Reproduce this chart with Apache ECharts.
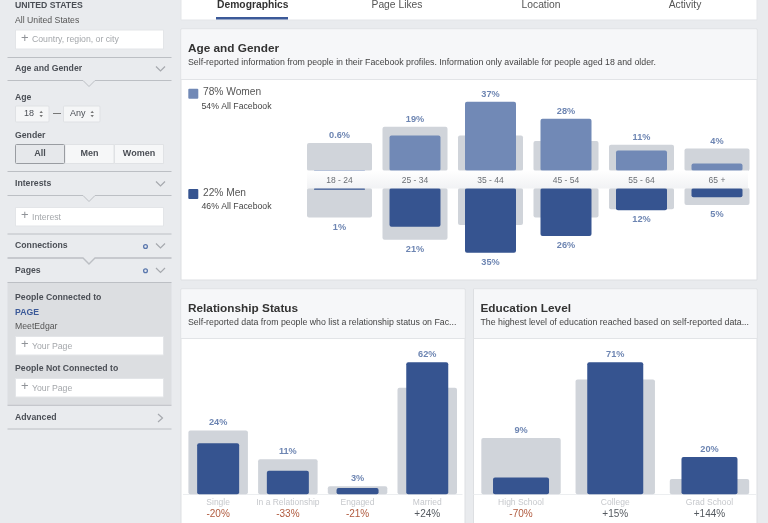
<!DOCTYPE html>
<html><head><meta charset="utf-8">
<style>html,body{margin:0;padding:0;background:#e9ebee}#c{width:768px;height:523px}</style>
<script src="https://cdn.jsdelivr.net/npm/echarts@6/dist/echarts.min.js"></script>
</head><body><div id="c"></div>
<script>
// ---- data ----
const ageGroups = ['18 - 24','25 - 34','35 - 44','45 - 54','55 - 64','65 +'];
const womenPct = [0.6,19,37,28,11,4];
const womenAllFacebook = [15,23.7,19,16,14,12];
const womenLabels = ['0.6%','19%','37%','28%','11%','4%'];
const menPct = [1,21,35,26,12,5];
const menAllFacebook = [16,28,20,16,11.5,9.2];
const menLabels = ['1%','21%','35%','26%','12%','5%'];
const relationshipCats = ['Single','In a Relationship','Engaged','Married'];
const relationshipPct = [24,11,3,62];
const relationshipAll = [30,16.4,3.8,50];
const relationshipLabels = ['24%','11%','3%','62%'];
const relationshipDelta = ['-20%','-33%','-21%','+24%'];
const educationCats = ['High School','College','Grad School'];
const educationPct = [9,71,20];
const educationAll = [30.3,61.7,8.2];
const educationLabels = ['9%','71%','20%'];
const educationDelta = ['-70%','+15%','+144%'];

// ---- style ----
const FF = '"Liberation Sans", Arial, sans-serif';
const GREY='#d0d4da', WOMEN='#7189b6', MEN='#365490', LABEL='#6d85b2', LINE='#bcbfc4', DARK='#4b4f56', BG='#e9ebee';
const SB=8.7;

// ---- chrome helpers ----
const g = [];
const rect=(x,y,w,h,fill,stroke,r,z)=>g.push({type:'rect',silent:true,z:z==null?0:z,shape:{x,y,width:w,height:h,r:r||0},style:{fill,stroke:stroke||null,lineWidth:stroke?1:0}});
const txt=(x,y,text,size,fill,bold,align)=>g.push({type:'text',silent:true,z:1,x,y,style:{text,fill:fill||DARK,font:(bold?'bold ':'')+size+'px '+FF,align:align||'left',verticalAlign:'middle'}});
const poly=(pts,stroke,w,z)=>g.push({type:'polyline',silent:true,z:z==null?1:z,shape:{points:pts},style:{stroke,lineWidth:w||1,fill:null}});
const tri=(pts,fill)=>g.push({type:'polygon',silent:true,z:1,shape:{points:pts},style:{fill}});
const hline=y=>poly([[7.5,y],[171.5,y]],LINE);
const notch=(y,w)=>poly([[7.5,y],[83,y],[89,y+6],[95,y],[171.5,y]],LINE,w||1);
const chevDown=y=>poly([[156,y-2.5],[160.5,y+2],[165,y-2.5]],'#a6a9ae',1.2);
const plusInput=(y,h,ph)=>{rect(15.5,y,148,h,'#fff','#e3e5e8');txt(21,y+h/2-1,'+',13,'#909398');txt(32,y+h/2+0.5,ph,SB,'#a4a7ab');};
const ring=y=>g.push({type:'circle',silent:true,z:1,shape:{cx:145.5,cy:y,r:1.9},style:{fill:'none',stroke:'#5a77ad',lineWidth:1.3}});
const spin=(x,y)=>{tri([[x,y-1],[x+3.4,y-1],[x+1.7,y-3.2]],'#777');tri([[x,y+1],[x+3.4,y+1],[x+1.7,y+3.2]],'#777');};

// sidebar
txt(15,6,'UNITED STATES',SB,DARK,true);
txt(15,20.5,'All United States',SB,'#555');
plusInput(30,19,'Country, region, or city');
hline(57.5);
txt(15,69,'Age and Gender',SB,DARK,true); chevDown(69);
notch(80.5);
txt(15,98,'Age',SB,DARK,true);
rect(15.5,106,33.5,16,'#f5f6f7','#dfe1e4',1);
txt(24,114,'18',9,DARK); spin(39.5,114);
poly([[53,113.5],[61,113.5]],'#777');
rect(63.5,106,36.5,16,'#f5f6f7','#dfe1e4',1);
txt(70,114,'Any',9,DARK); spin(90.5,114);
txt(15,136,'Gender',SB,DARK,true);
rect(65,144.5,49,19,'#f6f7f8','#e0e2e5');
rect(114.5,144.5,49,19,'#f6f7f8','#e0e2e5');
rect(15.5,144.5,49,19,'#e6e8eb','#999ca1',1);
txt(40,154,'All',9,DARK,true,'center');
txt(89.5,154,'Men',9,DARK,true,'center');
txt(139,154,'Women',9,DARK,true,'center');
hline(171.5);
txt(15,184,'Interests',SB,DARK,true); chevDown(184);
notch(195.5);
plusInput(207.5,18.5,'Interest');
hline(234);
txt(15,246,'Connections',SB,DARK,true); ring(246.5); chevDown(246);
notch(258,1.4);
txt(15,270.7,'Pages',SB,DARK,true); ring(270.7); chevDown(270.5);
rect(7.5,282.5,164,122.5,'#dcdee1');
hline(282.5);
txt(15,298,'People Connected to',SB,DARK,true);
txt(15,312.7,'PAGE',SB,'#3b5998',true);
txt(15,327,'MeetEdgar',SB,'#555');
plusInput(336.5,18.5,'Your Page');
txt(15,369,'People Not Connected to',SB,DARK,true);
plusInput(378.5,18.5,'Your Page');
hline(405.3);
txt(15,417.5,'Advanced',SB,DARK,true);
poly([[158,414],[162.5,418],[158,422]],'#a6a9ae',1.2);
hline(429);

// tabs
rect(181,-2,576,22,'#fff','#e3e5e8');
rect(216,17,72,2.5,'#3b5998');
txt(252.8,5,'Demographics',10.3,'#333',true,'center');
txt(397,5,'Page Likes',10.3,'#555',false,'center');
txt(541,5,'Location',10.3,'#555',false,'center');
txt(685,5,'Activity',10.3,'#555',false,'center');

// cards
const card=(x,y,w,h,headH,title,sub)=>{
  rect(x,y,w,h,'#fff','#dddfe2');
  rect(x+0.5,y+0.5,w-1,headH,'#f6f7f9');
  poly([[x,y+headH+0.5],[x+w,y+headH+0.5]],'#e2e4e7');
  txt(x+7,y+19.5,title,11.8,'#333',true);
  txt(x+7,y+34,sub,8.8,'#444');
};
card(181,29,576,251,50,'Age and Gender','Self-reported information from people in their Facebook profiles. Information only available for people aged 18 and older.');
card(181,289,284,240,49,'Relationship Status','Self-reported data from people who list a relationship status on Fac...');
card(473.5,289,283.5,240,49,'Education Level','The highest level of education reached based on self-reported data...');

// age legend
rect(188.3,88.7,10,10,WOMEN,null,1);
txt(203,92.5,'78% Women',10.2,'#555');
txt(201.5,106.5,'54% All Facebook',8.7,'#444');
rect(188.3,189,10,10,MEN,null,1);
txt(203,193,'22% Men',10.2,'#555');
txt(201.5,206.5,'46% All Facebook',8.7,'#444');

// band between the two age panels
g.push({type:'rect',silent:true,z:3,shape:{x:307,y:170.5,width:441,height:18},
  style:{fill:{type:'linear',x:0,y:0,x2:0,y2:1,colorStops:[{offset:0,color:'#ffffff'},{offset:1,color:'#f1f2f4'}]}}});

// ---- chart ----
const grid=[],xAxis=[],yAxis=[],series=[];
function panel(o){
  const gi=grid.length, xi=xAxis.length, yi=yAxis.length;
  grid.push({left:o.left,width:o.width,top:o.top,height:o.height});
  xAxis.push(Object.assign({type:'category',gridIndex:gi,data:o.cats,axisTick:{show:false},axisLine:{show:false},axisLabel:{show:false}},o.axis||{}));
  xAxis.push({type:'category',gridIndex:gi,data:o.cats,show:false});
  yAxis.push({type:'value',gridIndex:gi,min:0,max:o.max,show:false,inverse:!!o.inverse});
  const lab=(i,show)=>({show,formatter:o.labels[i],position:o.inverse?'bottom':'top',distance:o.inverse?5:3,color:LABEL,fontFamily:FF,fontWeight:'bold',fontSize:9.2});
  series.push({type:'bar',name:o.name+' all',xAxisIndex:xi,yAxisIndex:yi,barWidth:o.greyW,silent:true,
    itemStyle:{color:GREY,borderRadius:2},z:2,
    data:o.all.map((v,i)=>({value:v,label:lab(i,v>o.vals[i])}))});
  series.push({type:'bar',name:o.name,xAxisIndex:xi+1,yAxisIndex:yi,barWidth:o.blueW,silent:true,
    itemStyle:{color:o.color,borderRadius:2},z:2.5,
    data:o.vals.map((v,i)=>({value:v,label:lab(i,v>=o.all[i])}))});
}
const richAxis=(deltas,margin)=>({
  show:true,interval:0,margin,hideOverlap:false,fontFamily:FF,
  formatter:(val,i)=>'{a|'+val+'}\n{'+(deltas[i][0]==='-'?'n':'p')+'|'+deltas[i]+'}',
  rich:{a:{color:'#c6c8cc',fontSize:8.5,fontFamily:FF,lineHeight:11},
        n:{color:'#b05a3e',fontSize:10,fontFamily:FF,lineHeight:12},
        p:{color:'#555a60',fontSize:10,fontFamily:FF,lineHeight:12}}});

panel({name:'Women',cats:ageGroups,left:301.75,width:453,top:96.2,height:74.8,max:40,vals:womenPct,all:womenAllFacebook,labels:womenLabels,color:WOMEN,greyW:65,blueW:51,
  axis:{z:4,axisLabel:{show:true,interval:0,margin:5,color:'#6b6f75',fontSize:8.5,fontFamily:FF,hideOverlap:false}}});
panel({name:'Men',cats:ageGroups,left:301.75,width:453,top:188,height:74,max:40,inverse:true,vals:menPct,all:menAllFacebook,labels:menLabels,color:MEN,greyW:65,blueW:51});
panel({name:'Relationship',cats:relationshipCats,left:183.3,width:278.8,top:345.2,height:149.1,max:70,vals:relationshipPct,all:relationshipAll,labels:relationshipLabels,color:MEN,greyW:59.5,blueW:42,
  axis:{axisLine:{show:true,lineStyle:{color:'#eceef0'}},axisLabel:richAxis(relationshipDelta,3)}});
panel({name:'Education',cats:educationCats,left:473.9,width:282.7,top:345.5,height:148.8,max:80,vals:educationPct,all:educationAll,labels:educationLabels,color:MEN,greyW:79.4,blueW:56,
  axis:{axisLine:{show:true,lineStyle:{color:'#eceef0'}},axisLabel:richAxis(educationDelta,3)}});

const chart=echarts.init(document.getElementById('c'),null,{renderer:'canvas'});
chart.setOption({animation:false,backgroundColor:BG,tooltip:{show:false},graphic:{elements:g},grid,xAxis,yAxis,series});
</script></body></html>
